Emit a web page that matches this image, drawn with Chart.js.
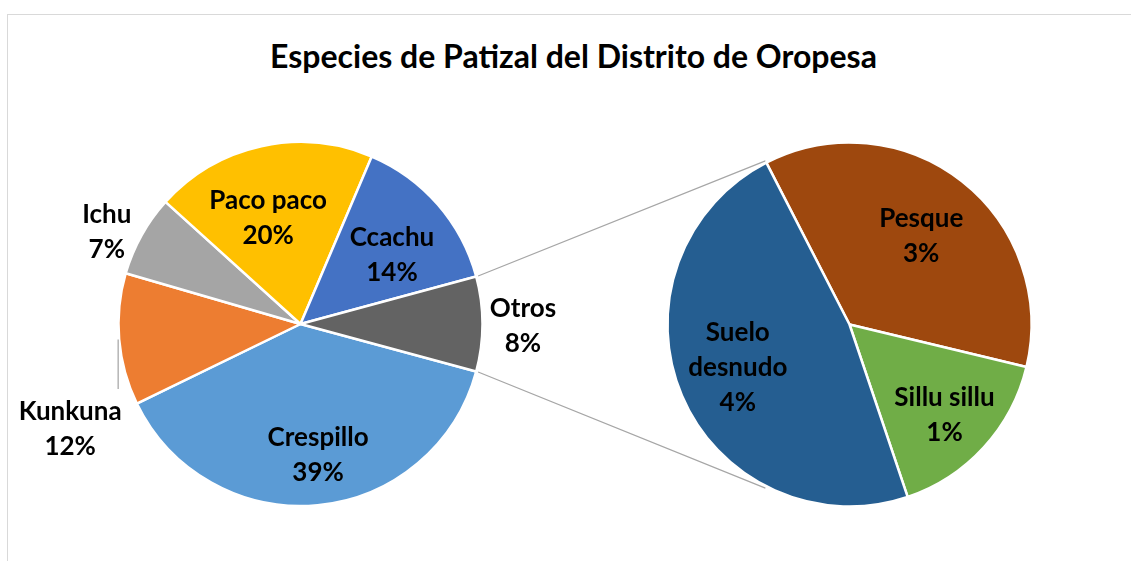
<!DOCTYPE html>
<html>
<head>
<meta charset="utf-8">
<script src="https://cdn.jsdelivr.net/npm/chart.js@4.4.0/dist/chart.umd.min.js"></script>
<style>
  body { margin: 0; background: #fff; }
  #wrap { position: relative; width: 1131px; height: 561px; overflow: hidden; }
  #frame { position: absolute; left: 7px; top: 14px; width: 1200px; height: 600px; border: 1px solid #d9d9d9; }
  #title { position: absolute; left: 0; top: 38px; width: 1147px; text-align: center;
           font: bold 32px Lato; line-height: 36px; color: #000; }
  canvas { position: absolute; left: 0; top: 0; }
</style>
</head>
<body>
<div id="wrap">
  <div id="frame"></div>
  <div id="title">Especies de Patizal del Distrito de Oropesa</div>
  <canvas id="mainPie" width="1131" height="561"></canvas>
  <canvas id="subPie" width="1131" height="561"></canvas>
</div>
<script>
// main pie (percent of total), "Otros" is broken out in the second pie
const mainLabels = ['Crespillo', 'Kunkuna', 'Ichu', 'Paco paco', 'Ccachu', 'Otros'];
const mainValues = [38.6, 11.7, 7.2, 19.7, 14.4, 8.4];
const subLabels = ['Pesque', 'Sillu sillu', 'Suelo desnudo'];
const subValues = [3.05, 1.35, 4.0];

const mainColors = ['#5B9BD5', '#ED7D31', '#A5A5A5', '#FFC000', '#4472C4', '#636363'];
const subColors = ['#9E480E', '#70AD47', '#255E91'];

// label spot per slice: [fraction of radius, angle shift in degrees]
const mainLabelPos = [[0.722, -2.3], [1.388, -19.4], [1.18, -3.6], [0.614, -4.4], [0.632, 3.7], [1.222, 0.3]];
const subLabelPos = [[0.631, 0.5], [0.718, 0.9], [0.657, 2]];

const FONT_SIZE = 26;
const LINE_H = 35;
const CAP = FONT_SIZE * 0.7165;

function wrapText(ctx, text, maxW) {
  const words = text.split(' ');
  const out = [];
  let cur = '';
  words.forEach(w => {
    const test = cur ? cur + ' ' + w : w;
    if (cur && ctx.measureText(test).width > maxW) {
      out.push(cur);
      cur = w;
    } else {
      cur = test;
    }
  });
  out.push(cur);
  return out;
}

function sliceLabels(positions, leaderIdx) {
  return {
    id: 'sliceLabels',
    afterDatasetsDraw(chart) {
      const ctx = chart.ctx;
      const arcs = chart.getDatasetMeta(0).data;
      const names = chart.data.labels;
      const vals = chart.data.datasets[0].data;
      ctx.save();
      ctx.font = `bold ${FONT_SIZE}px Lato`;
      ctx.fillStyle = '#000';
      ctx.textAlign = 'center';
      ctx.textBaseline = 'alphabetic';
      arcs.forEach((arc, i) => {
        const mid = (arc.startAngle + arc.endAngle) / 2;
        const ang = mid + positions[i][1] * Math.PI / 180;
        const r = arc.outerRadius * positions[i][0];
        const cx = arc.x + r * Math.cos(ang);
        const cy = arc.y + r * Math.sin(ang);
        const lines = wrapText(ctx, names[i], 145).concat(Math.round(vals[i]) + '%');
        lines.forEach((t, j) => {
          const capMid = cy + (j - (lines.length - 1) / 2) * LINE_H;
          ctx.fillText(t, cx, capMid + CAP / 2);
        });
        if (i === leaderIdx) {
          // short leader from the slice edge down to the label
          const px = arc.x + (arc.outerRadius + 1) * Math.cos(mid);
          const py = arc.y + (arc.outerRadius + 1) * Math.sin(mid);
          const top = cy - (lines.length - 1) / 2 * LINE_H - CAP / 2 - 12;
          ctx.strokeStyle = '#A6A6A6';
          ctx.lineWidth = 1.25;
          ctx.beginPath();
          ctx.moveTo(px, py);
          ctx.lineTo(px, top);
          ctx.stroke();
        }
      });
      ctx.restore();
    }
  };
}

const mainChart = new Chart(document.getElementById('mainPie'), {
  type: 'pie',
  data: {
    labels: mainLabels,
    datasets: [{ data: mainValues, backgroundColor: mainColors, borderColor: '#fff', borderWidth: 2.5 }]
  },
  options: {
    responsive: false,
    animation: false,
    radius: 182,
    rotation: 90 + mainValues[mainValues.length - 1] / 100 * 180,
    layout: { padding: { left: 0, right: 530, top: 87, bottom: 0 } },
    plugins: { legend: { display: false }, tooltip: { enabled: false } }
  },
  plugins: [sliceLabels(mainLabelPos, 1)]
});

// grey lines joining the "Otros" slice to the second pie
const connectors = {
  id: 'connectors',
  beforeDatasetsDraw(chart) {
    const otros = mainChart.getDatasetMeta(0).data[mainValues.length - 1];
    const first = chart.getDatasetMeta(0).data[0];
    const a = first.startAngle;
    const R1 = otros.outerRadius + 2;
    const R2 = first.outerRadius + 2;
    const ctx = chart.ctx;
    ctx.save();
    ctx.strokeStyle = '#A6A6A6';
    ctx.lineWidth = 1.25;
    ctx.beginPath();
    ctx.moveTo(otros.x + R1 * Math.cos(otros.startAngle), otros.y + R1 * Math.sin(otros.startAngle));
    ctx.lineTo(first.x + R2 * Math.cos(a), first.y + R2 * Math.sin(a));
    ctx.moveTo(otros.x + R1 * Math.cos(otros.endAngle), otros.y + R1 * Math.sin(otros.endAngle));
    ctx.lineTo(first.x + R2 * Math.cos(-a), first.y + R2 * Math.sin(-a));
    ctx.stroke();
    ctx.restore();
  }
};

new Chart(document.getElementById('subPie'), {
  type: 'pie',
  data: {
    labels: subLabels,
    datasets: [{ data: subValues, backgroundColor: subColors, borderColor: '#fff', borderWidth: 2.5 }]
  },
  options: {
    responsive: false,
    animation: false,
    radius: 182,
    rotation: 332.8,
    layout: { padding: { left: 568, right: 0, top: 88, bottom: 0 } },
    plugins: { legend: { display: false }, tooltip: { enabled: false } }
  },
  plugins: [connectors, sliceLabels(subLabelPos, -1)]
});
</script>
</body>
</html>
